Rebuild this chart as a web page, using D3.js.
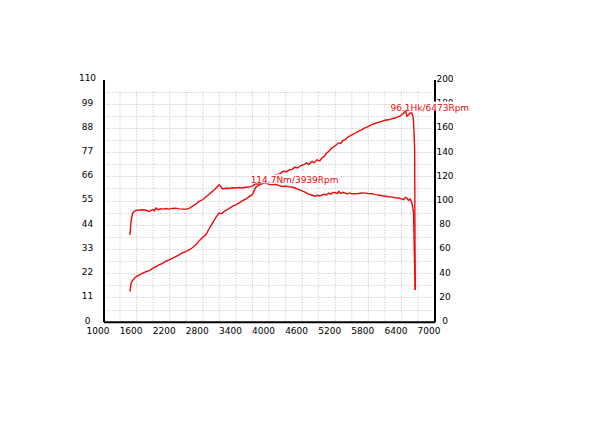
<!DOCTYPE html>
<html><head><meta charset="utf-8">
<script src="https://cdn.jsdelivr.net/npm/d3@7"></script>
<style>
html,body{margin:0;padding:0;background:#fff;}
svg{display:block;}
text{font-family:"DejaVu Sans",Verdana,sans-serif;font-size:9px;}
</style></head>
<body>
<script>
// ---- data ----
const xTicks = [1000,1600,2200,2800,3400,4000,4600,5200,5800,6400,7000];
const leftTicks = [0,11,22,33,44,55,66,77,88,99,110];
const rightTicks = [0,20,40,60,80,100,120,140,160,180,200];

const torqueRpm = [1480,1490,1500,1515,1530,1560,1590,1650,1710,1770,1830,1860,1890,1920,1950,1990,2030,2070,2130,2190,2250,2310,2370,2430,2490,2550,2610,2670,2735,2794,2850,2910,2975,3040,3096,3130,3156,3220,3280,3340,3398,3460,3520,3580,3638,3700,3759,3820,3879,3939,4000,4060,4120,4180,4240,4300,4360,4422,4480,4542,4600,4663,4710,4753,4800,4843,4880,4920,4963,5000,5040,5084,5120,5160,5205,5240,5265,5300,5340,5385,5420,5460,5500,5566,5620,5680,5747,5800,5867,5930,5990,6047,6110,6170,6228,6290,6348,6400,6439,6470,6499,6529,6559,6590,6610,6620,6630,6650];
const torqueNm = [71.7,78,82.8,87,89.7,91.2,91.9,92.2,92.4,92.0,91.0,91.8,92.6,91.5,93.8,92.5,93.2,93.0,93.5,93.0,93.6,93.8,93.2,93.0,92.8,93.5,95.2,97.0,99.3,100.7,102.8,105.0,107.6,110.5,113.1,111.5,109.6,110.2,110.0,110.6,110.4,110.8,110.4,111.0,111.2,112.2,113.9,113.7,114.0,114.7,113.4,113.0,113.5,112.4,111.7,111.9,111.3,111.2,110.2,109.0,108.0,106.8,105.6,104.8,104.2,103.6,104.5,103.8,104.8,105.2,104.6,106.2,105.4,106.8,106.5,105.8,107.6,106.0,106.9,106.2,105.4,106.3,105.6,105.7,105.9,106.3,106.2,105.8,105.7,104.9,104.6,104.0,103.6,103.2,102.9,102.4,102.1,101.4,100.7,102.6,102.1,100.1,101.3,98.0,93,89.7,67.6,26.2];

const powerRpm = [1480,1490,1500,1530,1560,1600,1650,1720,1780,1830,1900,1950,2010,2070,2130,2190,2250,2310,2370,2430,2490,2550,2610,2675,2735,2800,2855,2910,2975,3040,3096,3140,3187,3250,3300,3350,3398,3460,3520,3578,3640,3698,3759,3820,3879,3939,4000,4060,4120,4180,4211,4260,4320,4370,4422,4470,4520,4570,4632,4680,4720,4782,4820,4870,4920,4963,5000,5040,5084,5130,5180,5230,5265,5300,5340,5385,5430,5480,5520,5566,5620,5686,5740,5807,5860,5920,5980,6047,6100,6168,6230,6288,6340,6380,6409,6440,6473,6499,6530,6559,6590,6610,6620,6640,6650];
const powerHk = [13.7,15.8,17.5,18.8,19.7,20.6,21.3,22.2,22.8,23.2,24.3,25.0,25.8,26.5,27.4,28.1,28.8,29.6,30.4,31.2,31.8,32.6,33.6,34.9,36.8,38.4,39.5,42.0,44.8,47.5,49.3,49.0,50.1,51.0,51.8,52.6,53.1,54.0,55.0,55.7,56.8,57.7,61.0,62.0,62.8,64.3,65.0,65.8,66.8,67.0,67.5,68.3,68.1,69.0,69.2,70.2,69.8,70.8,71.3,72.1,71.4,72.8,72.2,73.5,73.0,74.4,75.0,76.5,77.4,78.8,79.5,80.6,81.2,81.0,82.4,82.7,83.9,84.5,85.1,85.7,86.4,87.2,88.0,88.7,89.5,90.0,90.5,91.0,91.5,91.7,92.2,92.5,93.0,93.5,94.1,94.6,96.1,93.3,94.0,94.8,94.8,93.0,91.0,78.9,14.4];

const torqueLabel = "114.7Nm/3939Rpm";
const powerLabel = "96.1Hk/6473Rpm";

// ---- layout ----
const W = 600, H = 424;
const L = 103.5, R = 434.5, T = 79.5, B = 321.7;
const red = "#ee0a0a";

const svg = d3.select("body").append("svg").attr("width", W).attr("height", H);
const x = d3.scaleLinear().domain([1000,7000]).range([L,R]);
const yL = d3.scaleLinear().domain([0,110]).range([B,T]);
const yR = d3.scaleLinear().domain([0,200]).range([B,T]);

// grid
const g = svg.append("g");
const vGrid = d3.range(1300, 7000, 300);
g.selectAll("line.v").data(vGrid).join("line")
  .attr("x1", d=>x(d)).attr("x2", d=>x(d))
  .attr("y1", yL(104.5)).attr("y2", B)
  .attr("stroke","#b8b8b8").attr("stroke-width",1).attr("stroke-dasharray","1,2");
const hGrid = d3.range(1,20).map(i=>i*5.5);
g.selectAll("line.h").data(hGrid).join("line")
  .attr("x1", L).attr("x2", R)
  .attr("y1", d=>Math.round(yL(d))+0.5).attr("y2", d=>Math.round(yL(d))+0.5)
  .attr("stroke","#b8b8b8").attr("stroke-width",1).attr("stroke-dasharray","1,2");

// axes
const axB = svg.append("g").attr("transform",`translate(0,${B})`)
  .call(d3.axisBottom(x).tickValues(xTicks).tickSize(0).tickFormat(d3.format("d")));
axB.select(".domain").attr("stroke","#000").attr("stroke-width",2);
axB.selectAll("text").attr("dy",null).attr("y",12).attr("dx",-6).attr("fill","#000")
  .style("font-size","9px");

const axL = svg.append("g").attr("transform",`translate(${L},0)`)
  .call(d3.axisLeft(yL).tickValues(leftTicks).tickSize(0));
axL.select(".domain").attr("stroke","#000").attr("stroke-width",2);
axL.selectAll("text").attr("text-anchor","middle").attr("x",-16).attr("dy","0.32em")
  .attr("transform","translate(0,-1.5)").attr("fill","#000").style("font-size","9px");

const axR = svg.append("g").attr("transform",`translate(${R},0)`)
  .call(d3.axisRight(yR).tickValues(rightTicks).tickSize(0));
axR.select(".domain").attr("stroke","#000").attr("stroke-width",2);
axR.selectAll("text").attr("text-anchor","middle").attr("x",10.5).attr("dy","0.32em")
  .attr("transform","translate(0,-1)").attr("fill","#000").style("font-size","9px");

// lines
const torque = torqueRpm.map((r,i)=>({r, v: torqueNm[i]}));
const power = powerRpm.map((r,i)=>({r, v: powerHk[i]}));
svg.append("path").datum(torque)
  .attr("d", d3.line().x(d=>x(d.r)).y(d=>yR(d.v)))
  .attr("fill","none").attr("stroke",red).attr("stroke-width",1.4);
svg.append("path").datum(power)
  .attr("d", d3.line().x(d=>x(d.r)).y(d=>yL(d.v)))
  .attr("fill","none").attr("stroke",red).attr("stroke-width",1.4);

// peak labels
function peakLabel(data, yScale, txt){
  const p = data.reduce((a,b)=> b.v > a.v ? b : a);
  const px = x(p.r), py = yScale(p.v);
  const gg = svg.append("g");
  const t = gg.append("text").attr("x", px-15).attr("y", py+0.5).attr("fill", red).text(txt);
  const bb = t.node().getBBox();
  gg.insert("rect","text").attr("x",bb.x).attr("y",py-8.5).attr("width",bb.width).attr("height",9)
    .attr("fill","#fff");
}
peakLabel(torque, yR, torqueLabel);
peakLabel(power, yL, powerLabel);
</script>
</body></html>
